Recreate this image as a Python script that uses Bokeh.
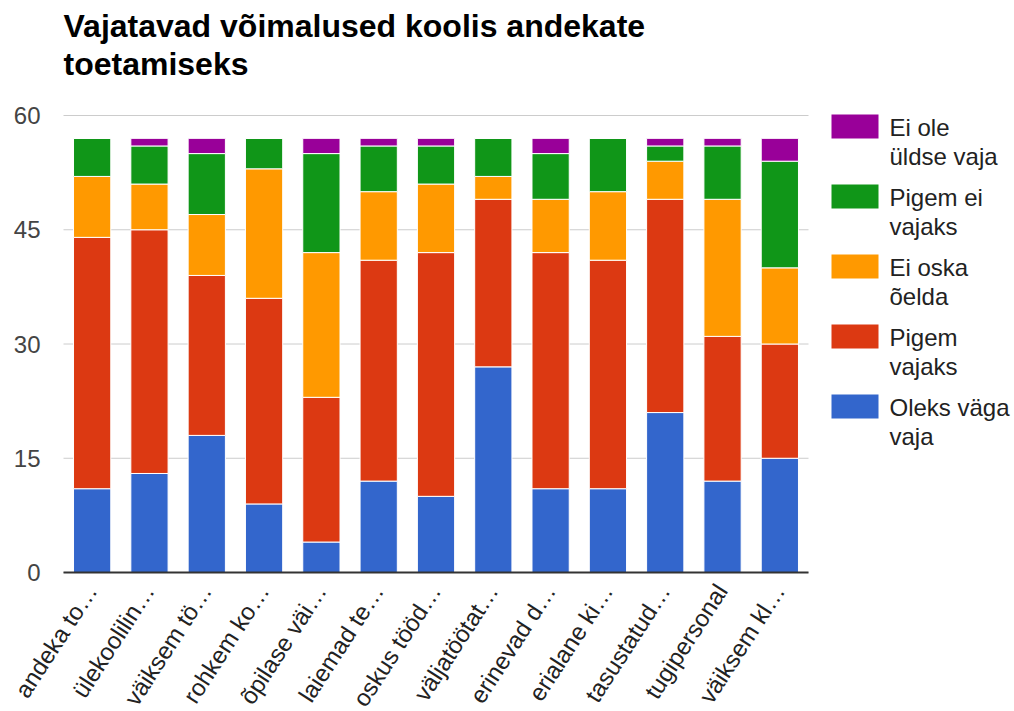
from bokeh.plotting import figure
from bokeh.models import ColumnDataSource, Range1d
from bokeh.core.properties import value
from bokeh.embed import file_html
from bokeh.resources import INLINE
import math

# Question items (labels as shortened on the axis)
categories = [
    "andeka to…", "ülekoolilin…", "väiksem tö…", "rohkem ko…", "õpilase väi…",
    "laiemad te…", "oskus tööd…", "väljatöötat…", "erinevad d…", "erialane ki…",
    "tasustatud…", "tugipersonal", "väiksem kl…",
]

# Answer counts per item
oleks_vaga_vaja = [11, 13, 18, 9, 4, 12, 10, 27, 11, 11, 21, 12, 15]
pigem_vajaks = [33, 32, 21, 27, 19, 29, 32, 22, 31, 30, 28, 19, 15]
ei_oska_oelda = [8, 6, 8, 17, 19, 9, 9, 3, 7, 9, 5, 18, 10]
pigem_ei_vajaks = [5, 5, 8, 4, 13, 6, 5, 5, 6, 7, 2, 7, 14]
ei_ole_uldse_vaja = [0, 1, 2, 0, 2, 1, 1, 0, 2, 0, 1, 1, 3]

series_keys = ["oleks", "pigem", "eioska", "pigemei", "eiole"]
series_names = [["Oleks väga", "vaja"], ["Pigem", "vajaks"], ["Ei oska", "õelda"],
                ["Pigem ei", "vajaks"], ["Ei ole", "üldse vaja"]]
series_colors = ["#3366cc", "#dc3912", "#ff9900", "#109618", "#990099"]

y_ticks = [0, 15, 30, 45, 60]
y_tick_labels = ["0", "15", "30", "45", "60"]
y_max = 60

title_lines = ["Vajatavad võimalused koolis andekate", "toetamiseks"]

FONT = value("Liberation Sans")
W, H = 1014, 711

# Page layout in pixels: the bar area, with title above, legend to the
# right, value labels to the left and slanted labels below. The frame
# covers the whole page, so everything is placed through the data scales.
AREA_L, AREA_R, AREA_T, AREA_B = 63, 808, 115, 572
BASELINE_FIX = 11   # lift for text drawn on its alphabetic baseline
n = len(categories)
px_x = (AREA_R - AREA_L) / n          # pixels per category slot
px_y = (AREA_B - AREA_T) / y_max      # pixels per answer


def xd(px):
    return (px - AREA_L) / px_x


def yd(py):
    return y_max - (py - AREA_T) / px_y


bar_x = [i + 0.5 for i in range(n)]

source = ColumnDataSource({
    "x": bar_x,
    "cat": categories,
    "oleks": oleks_vaga_vaja,
    "pigem": pigem_vajaks,
    "eioska": ei_oska_oelda,
    "pigemei": pigem_ei_vajaks,
    "eiole": ei_ole_uldse_vaja,
})

p = figure(
    x_range=Range1d(xd(0), xd(W)),
    y_range=Range1d(yd(H), yd(0)),
    width=W, height=H,
    min_border=0,
    output_backend="svg", toolbar_location=None,
    outline_line_color=None,
)
p.axis.visible = False
p.grid.visible = False

# Horizontal grid lines, limited to the bar area
p.segment(x0=0, x1=n, y0=y_ticks, y1=y_ticks, line_color="#cccccc", line_width=1)

# Value labels of the grid lines
p.text(
    x=xd(40), y=y_ticks, text=y_tick_labels,
    text_align="right", text_baseline="middle",
    text_font=FONT, text_font_size="24px", text_color="#444444",
)

renderers = p.vbar_stack(
    series_keys, x="x", width=0.65, source=source,
    color=series_colors, line_color="white", line_width=1,
)

# Baseline at zero
p.segment(x0=0, x1=n, y0=0, y1=0, line_color="#333333", line_width=2)

# Slanted category labels under the bars
p.text(
    x="x", y=yd(586), text="cat", source=source, x_offset=-1,
    angle=math.radians(57), text_align="right", text_baseline="middle",
    text_font=FONT, text_font_size="24px", text_color="#222222",
)

# Title
p.text(
    x=xd(AREA_L), y=[yd(36 - BASELINE_FIX), yd(74 - BASELINE_FIX)],
    text=title_lines,
    text_align="left", text_baseline="alphabetic",
    text_font=FONT, text_font_size="32px", text_font_style="bold",
    text_color="#000000",
)

# Legend: top entry is the top segment of the stack
order = list(reversed(range(len(series_keys))))
sw_top = [114 + 70 * k for k in range(len(order))]
p.quad(
    left=xd(831), right=xd(878),
    top=[yd(t) for t in sw_top], bottom=[yd(t + 24) for t in sw_top],
    fill_color=[series_colors[i] for i in order], line_color=None,
)
leg_text, leg_y = [], []
for k, i in enumerate(order):
    leg_text += series_names[i]
    leg_y += [yd(sw_top[k] + 24 - BASELINE_FIX), yd(sw_top[k] + 53 - BASELINE_FIX)]
p.text(
    x=xd(889), y=leg_y, text=leg_text,
    text_align="left", text_baseline="alphabetic",
    text_font=FONT, text_font_size="24px", text_color="#222222",
)

open("out.html", "w").write(file_html(p, INLINE))
